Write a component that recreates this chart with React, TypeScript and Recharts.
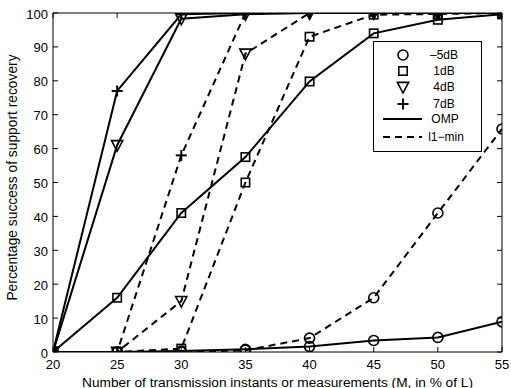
import React from 'react';
import { LineChart, Line, XAxis, YAxis, Legend } from 'recharts';

const xValues = [20, 25, 30, 35, 40, 45, 50, 55];
const xTicks = [20, 25, 30, 35, 40, 45, 50, 55];
const yTicks = [0, 10, 20, 30, 40, 50, 60, 70, 80, 90, 100];

// OMP (solid lines)
const ompM5 = [0, 0, 0.3, 0.8, 1.6, 3.4, 4.3, 8.9];
const omp1 = [0, 16, 41, 57.5, 79.8, 94, 98, 99.6];
const omp4 = [0, 61, 98.3, 99.6, 100, 100, 100, 100];
const omp7 = [0, 77, 99.6, 100, 100, 100, 100, 100];
// l1-min (dashed lines)
const l1M5 = [0, 0, 0, 0.5, 4.1, 16, 41, 65.8];
const l11 = [0, 0, 1, 50, 93, 99.5, 99.7, 100];
const l14 = [0, 0, 15, 88, 100, 100, 100, 100];
const l17 = [0, 0, 58, 100, 100, 100, 100, 100];

const data = xValues.map((x, i) => ({
  x,
  ompM5: ompM5[i], omp1: omp1[i], omp4: omp4[i], omp7: omp7[i],
  l1M5: l1M5[i], l11: l11[i], l14: l14[i], l17: l17[i],
}));

const FONT = '"Liberation Sans", Arial, Helvetica, sans-serif';

type Shape = 'circle' | 'square' | 'triangle' | 'plus';

const Marker = ({ shape, cx, cy }: { shape: Shape; cx: number; cy: number }) => {
  const common = { stroke: '#000', strokeWidth: 1.6, fill: 'none' };
  if (shape === 'circle') return <circle cx={cx} cy={cy} r={5} {...common} />;
  if (shape === 'square') return <rect x={cx - 4.2} y={cy - 4.2} width={8.4} height={8.4} {...common} />;
  if (shape === 'triangle')
    return <polygon points={`${cx - 5.6},${cy - 4.6} ${cx + 5.6},${cy - 4.6} ${cx},${cy + 6}`} {...common} />;
  return (
    <g stroke="#000" strokeWidth={2}>
      <line x1={cx - 5.5} y1={cy} x2={cx + 5.5} y2={cy} />
      <line x1={cx} y1={cy - 5.5} x2={cx} y2={cy + 5.5} />
    </g>
  );
};

const makeDot = (shape: Shape) => (props: any) => {
  const { cx, cy, index } = props;
  if (cx == null || cy == null) return <g key={`e${index}`} />;
  return (
    <g key={`${shape}-${index}`}>
      <Marker shape={shape} cx={cx} cy={cy} />
    </g>
  );
};

const TM = 10;
const BottomTick = (props: any) => {
  const { x, y, payload } = props;
  const axisY = y - TM;
  return (
    <g>
      <line x1={x} y1={axisY} x2={x} y2={axisY - 5} stroke="#000" strokeWidth={1} />
      <text x={x} y={axisY + 17} textAnchor="middle" fontSize={13} fontFamily={FONT} fill="#000">
        {payload.value}
      </text>
    </g>
  );
};
const TopTick = (props: any) => {
  const { x, y } = props;
  const axisY = y + TM;
  return <line x1={x} y1={axisY} x2={x} y2={axisY + 5} stroke="#000" strokeWidth={1} />;
};
const LeftTick = (props: any) => {
  const { x, y, payload } = props;
  const axisX = x + TM;
  return (
    <g>
      <line x1={axisX} y1={y} x2={axisX + 5} y2={y} stroke="#000" strokeWidth={1} />
      <text x={axisX - 5} y={y + 5.5} textAnchor="end" fontSize={13} fontFamily={FONT} fill="#000">
        {payload.value}
      </text>
    </g>
  );
};
const RightTick = (props: any) => {
  const { x, y } = props;
  const axisX = x - TM;
  return <line x1={axisX} y1={y} x2={axisX - 5} y2={y} stroke="#000" strokeWidth={1} />;
};

const legendMarkers: { shape: Shape; label: string }[] = [
  { shape: 'circle', label: '\u20135dB' },
  { shape: 'square', label: '1dB' },
  { shape: 'triangle', label: '4dB' },
  { shape: 'plus', label: '7dB' },
];
const legendRowsY = [14, 30, 46, 63, 78, 96];

const LegendBox = () => (
  <svg width={109} height={111} style={{ display: 'block' }}>
    <rect x={0.5} y={0.5} width={108} height={110} fill="#fff" stroke="#000" strokeWidth={1} />
    {legendMarkers.map((m, i) => (
      <g key={m.label}>
        <Marker shape={m.shape} cx={30} cy={legendRowsY[i]} />
        <text x={71} y={legendRowsY[i] + 4.3} textAnchor="middle" fontSize={12} fontFamily={FONT} fill="#000">
          {m.label}
        </text>
      </g>
    ))}
    <line x1={10} y1={legendRowsY[4]} x2={49} y2={legendRowsY[4]} stroke="#000" strokeWidth={2} />
    <text x={72} y={legendRowsY[4] + 4.3} textAnchor="middle" fontSize={12} fontFamily={FONT} fill="#000">OMP</text>
    <line x1={10} y1={legendRowsY[5]} x2={49} y2={legendRowsY[5]} stroke="#000" strokeWidth={2} strokeDasharray="7 5" />
    <text x={73} y={legendRowsY[5] + 4.3} textAnchor="middle" fontSize={12} fontFamily={FONT} fill="#000">l1{'\u2212'}min</text>
  </svg>
);

const XLabel = (props: any) => {
  const vb = props.viewBox;
  return (
    <text x={vb.x + vb.width / 2} y={386.5} textAnchor="middle" fontSize={13.7} fontFamily={FONT} fill="#000">
      Number of transmission instants or measurements (M, in % of L)
    </text>
  );
};
const YLabel = (props: any) => {
  const vb = props.viewBox;
  const cx = 16.5;
  const cy = vb.y + vb.height / 2 - 5;
  return (
    <text x={cx} y={cy} transform={`rotate(-90, ${cx}, ${cy})`} textAnchor="middle" fontSize={13.8} fontFamily={FONT} fill="#000">
      Percentage success of support recovery
    </text>
  );
};

const series: { key: string; shape: Shape; dashed: boolean }[] = [
  { key: 'ompM5', shape: 'circle', dashed: false },
  { key: 'omp1', shape: 'square', dashed: false },
  { key: 'omp4', shape: 'triangle', dashed: false },
  { key: 'omp7', shape: 'plus', dashed: false },
  { key: 'l1M5', shape: 'circle', dashed: true },
  { key: 'l11', shape: 'square', dashed: true },
  { key: 'l14', shape: 'triangle', dashed: true },
  { key: 'l17', shape: 'plus', dashed: true },
];

export default function App() {
  return (
    <div style={{ position: 'absolute', left: 0, top: 0, width: 511, height: 388, background: '#fff' }}>
      <LineChart width={511} height={388} data={data} margin={{ top: 12, right: 8, bottom: 0, left: 0 }}>
        <XAxis
          xAxisId="b"
          dataKey="x"
          type="number"
          domain={[20, 55]}
          ticks={xTicks}
          orientation="bottom"
          height={36}
          tickLine={false}
          tickSize={0}
          tickMargin={TM}
          tick={<BottomTick />}
          axisLine={{ stroke: '#000', strokeWidth: 1 }}
          allowDataOverflow
          label={<XLabel />}
        />
        <XAxis
          xAxisId="t"
          dataKey="x"
          type="number"
          domain={[20, 55]}
          ticks={xTicks}
          orientation="top"
          height={1}
          tickLine={false}
          tickSize={0}
          tickMargin={TM}
          tick={<TopTick />}
          axisLine={{ stroke: '#000', strokeWidth: 1 }}
          allowDataOverflow
        />
        <YAxis
          yAxisId="l"
          type="number"
          domain={[0, 100]}
          ticks={yTicks}
          orientation="left"
          width={53}
          tickLine={false}
          tickSize={0}
          tickMargin={TM}
          tick={<LeftTick />}
          axisLine={{ stroke: '#000', strokeWidth: 1 }}
          allowDataOverflow
          label={<YLabel />}
        />
        <YAxis
          yAxisId="r"
          type="number"
          domain={[0, 100]}
          ticks={yTicks}
          orientation="right"
          width={1}
          tickLine={false}
          tickSize={0}
          tickMargin={TM}
          tick={<RightTick />}
          axisLine={{ stroke: '#000', strokeWidth: 1 }}
          allowDataOverflow
        />
        {series.map((s) => (
          <Line
            key={s.key}
            xAxisId="b"
            yAxisId="l"
            dataKey={s.key}
            type="linear"
            stroke="#000"
            strokeWidth={2}
            strokeDasharray={s.dashed ? '7 5' : undefined}
            dot={makeDot(s.shape)}
            activeDot={false}
            isAnimationActive={false}
          />
        ))}
        <Legend
          layout="vertical"
          verticalAlign="middle"
          align="center"
          wrapperStyle={{ position: 'absolute', left: 373, top: 41, width: 109, height: 111 }}
          content={() => <LegendBox />}
        />
      </LineChart>
    </div>
  );
}
